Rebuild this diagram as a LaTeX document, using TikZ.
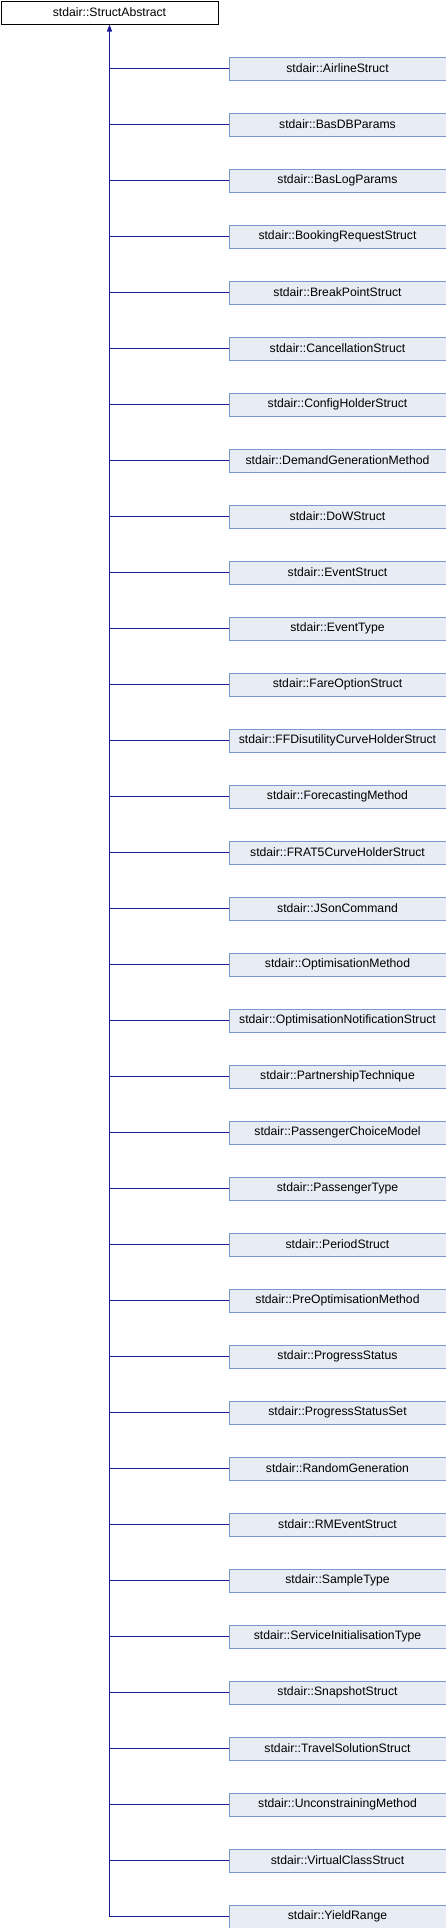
\documentclass[tikz,border=0pt]{standalone}
\usepackage{fontspec}
\setmainfont{Liberation Sans}
\usetikzlibrary{arrows.meta}
\definecolor{boxfill}{RGB}{232,236,245}
\definecolor{boxline}{RGB}{122,150,206}
\definecolor{edge}{RGB}{25,25,150}
\begin{document}
\begin{tikzpicture}[x=1pt,y=1pt,
  base/.style={draw=black,line width=1pt,minimum width=217pt,minimum height=23pt,inner sep=0pt,font=\fontsize{12.2}{14}\selectfont,anchor=north west},
  child/.style={draw=boxline,fill=boxfill,line width=1pt,minimum width=217pt,minimum height=23pt,inner sep=0pt,font=\fontsize{12.2}{14}\selectfont,anchor=north west},
  conn/.style={draw=edge,line width=1.1pt}]
\useasboundingbox (0,0) rectangle (446,-1928);
\node[base] (p) at (0.5,-0.5) {stdair::StructAbstract};
\foreach \n [count=\i from 0] in {AirlineStruct,BasDBParams,BasLogParams,BookingRequestStruct,BreakPointStruct,CancellationStruct,ConfigHolderStruct,DemandGenerationMethod,DoWStruct,EventStruct,EventType,FareOptionStruct,FFDisutilityCurveHolderStruct,ForecastingMethod,FRAT5CurveHolderStruct,JSonCommand,OptimisationMethod,OptimisationNotificationStruct,PartnershipTechnique,PassengerChoiceModel,PassengerType,PeriodStruct,PreOptimisationMethod,ProgressStatus,ProgressStatusSet,RandomGeneration,RMEventStruct,SampleType,ServiceInitialisationType,SnapshotStruct,TravelSolutionStruct,UnconstrainingMethod,VirtualClassStruct,YieldRange}{
  \node[child] (c\i) at (228.5,{-56.5-56*\i}) {stdair::\n};
  \draw[conn] (c\i.west) -- (c\i.west -| p.south);
}
\draw[conn,-{Triangle[width=5pt,length=7pt]}] (c33.west -| p.south) -- (p.south);
\end{tikzpicture}
\end{document}
